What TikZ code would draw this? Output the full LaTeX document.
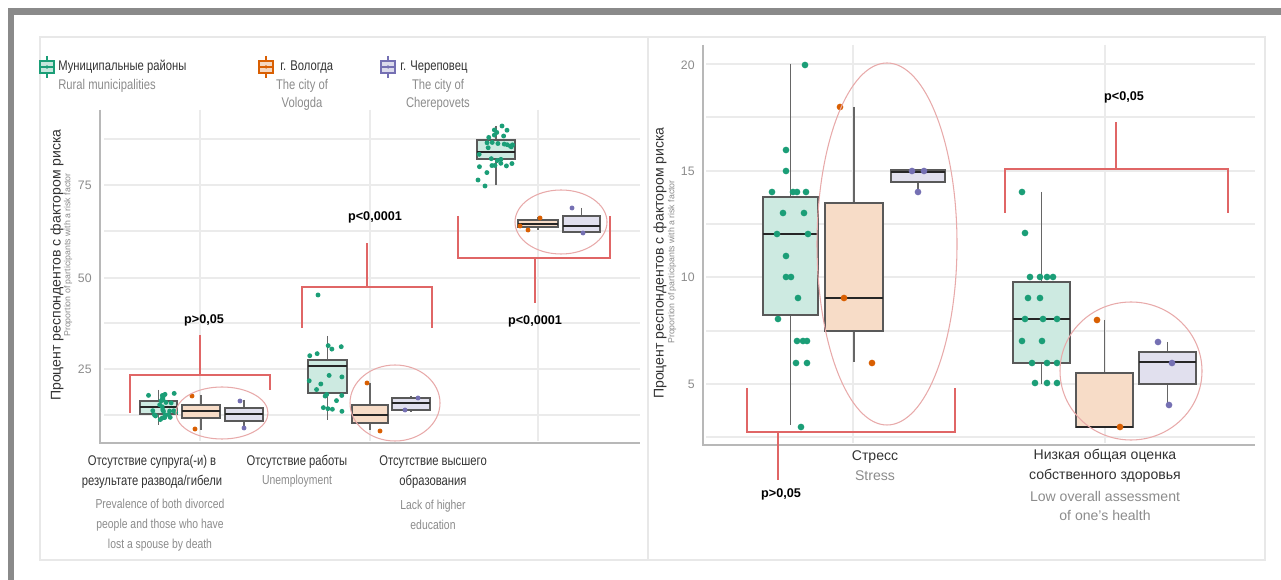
\documentclass[tikz,border=0pt]{standalone}
\usepackage{fontspec}
\setmainfont{Liberation Sans}
\newfontfamily\narrowsf{Liberation Sans}[FakeStretch=0.8]
\usepackage{xcolor}
\usepackage{tikz}
\usetikzlibrary{positioning,calc}

\definecolor{grn}{HTML}{1B9E77}
\definecolor{org}{HTML}{D95F02}
\definecolor{pur}{HTML}{7570B3}
\definecolor{brkred}{HTML}{E06666}
\definecolor{ringred}{HTML}{E8AAAA}
\definecolor{framegray}{HTML}{8A8A8A}
\definecolor{gridgray}{HTML}{EBEBEB}
\definecolor{axisgray}{HTML}{B8B8B8}
\definecolor{txtgray}{HTML}{8C8C8C}
\definecolor{txtdark}{HTML}{333333}

\begin{document}
\begin{tikzpicture}[x=0.02cm, y=-0.02cm,
  gridln/.style={gridgray, line width=0.6pt},
  axisln/.style={axisgray, line width=1.1pt},
  boxp/.style={draw=black!65, line width=0.8pt},
  whisk/.style={black!60, line width=0.8pt},
  med/.style={black!85, line width=1pt},
  brk/.style={brkred, line width=0.8pt},
  ring/.style={ringred, line width=0.6pt},
  leg/.style={font=\narrowsf\fontsize{8}{10}\selectfont, text=txtdark, inner sep=0pt},
  legen/.style={font=\narrowsf\fontsize{8}{10.2}\selectfont, text=txtgray, align=center, inner sep=0pt},
  catl/.style={font=\narrowsf\fontsize{8}{11.3}\selectfont, text=txtdark, align=center, inner sep=0pt},
  catlen/.style={font=\narrowsf\fontsize{7.4}{11.3}\selectfont, text=txtgray, align=center, inner sep=0pt},
  catr/.style={font=\fontsize{8}{11.3}\selectfont, text=txtdark, align=center, inner sep=0pt},
  catren/.style={font=\fontsize{8}{11}\selectfont, text=txtgray, align=center, inner sep=0pt},
  pval/.style={font=\bfseries\fontsize{7.2}{9}\selectfont, inner sep=0pt},
  ticklab/.style={font=\fontsize{7}{8}\selectfont, text=txtgray, anchor=east, inner sep=0pt},
  ytitle/.style={font=\fontsize{8}{9}\selectfont, text=txtdark, rotate=90, inner sep=0pt},
  ysub/.style={font=\fontsize{5}{6}\selectfont, text=txtgray, rotate=90, inner sep=0pt}
]
\useasboundingbox (0,0) rectangle (1281,580);

% frame and panels
\fill[white] (0,0) rectangle (1281,580);
\fill[framegray] (8,8) rectangle (1281,15);
\fill[framegray] (8,8) rectangle (14,580);
\draw[gray!18, line width=0.8pt] (40,37) rectangle (1265,560);
\draw[gray!18, line width=0.8pt] (648,37) -- (648,560);

% grids
\foreach \gy in {139,185,231,278,323,369,415}
  \draw[gridln] (104,\gy) -- (640,\gy);
\foreach \gx in {200,370,538}
  \draw[gridln] (\gx,110) -- (\gx,441);
\foreach \gy in {64,117,171,224,277,331,384,437}
  \draw[gridln] (706,\gy) -- (1255,\gy);
\foreach \gx in {853,1105}
  \draw[gridln] (\gx,45) -- (\gx,443);

% axes
\draw[axisln] (100,110) -- (100,443) -- (640,443);
\draw[axisln] (703,45) -- (703,445) -- (1255,445);

% tick labels
\node[ticklab] (t75) at (92,185) {75};
\node[ticklab] (t50) at (92,278) {50};
\node[ticklab] (t25) at (92,369) {25};
\node[ticklab] (t20) at (695,65) {20};
\node[ticklab] (t15) at (695,171) {15};
\node[ticklab] (t10) at (695,277) {10};
\node[ticklab] (t5)  at (695,384) {5};

% axis titles
\node[ytitle] (yt1) at (57,265) {Процент респондентов с фактором риска};
\node[ysub]   (ys1) at (68,255) {Proportion of participants with a risk factor};
\node[ytitle] (yt2) at (660,263) {Процент респондентов с фактором риска};
\node[ysub]   (ys2) at (672,262) {Proportion of participants with a risk factor};

% legend
\foreach \ix/\cl in {47/grn, 266/org, 388/pur} {
  \draw[\cl, line width=0.7pt] (\ix,56) -- (\ix,78);
  \filldraw[draw=\cl, fill=\cl!25, line width=0.7pt] (\ix-7,61) rectangle (\ix+7,73);
  \draw[\cl, line width=0.7pt] (\ix-7,67) -- (\ix+7,67);
  \fill[\cl] (\ix,67) circle (1pt);
}
\node[leg, anchor=west] (lg1) at (58,67) {Муниципальные районы};
\node[legen, anchor=west] (lg1en) at (58,86) {Rural municipalities};
\node[leg, anchor=west] (lg2) at (280,67) {г. Вологда};
\node[legen] (lg2en) at (302,95) {The city of\\Vologda};
\node[leg, anchor=west] (lg3) at (400,67) {г. Череповец};
\node[legen] (lg3en) at (438,95) {The city of\\Cherepovets};

% boxplots: x-left/x-right/whisker top/box top/median/box bottom/whisker bottom/colour
\foreach \xl/\xr/\wa/\qa/\md/\qb/\wb/\cl in {
  140/177/390/401/407/414/425/grn,
  182/220/395/405/411/418/430/org,
  225/263/400/408/414/421/428/pur,
  308/347/336/360/366/393/420/grn,
  352/388/383/405/415/423/430/org,
  392/430/396/398/403/410/412/pur,
  477/515/126/140/152/159/185/grn,
  518/558/217/220/224/227/230/org,
  563/600/208/216/226/232/234/pur,
  763/818/64/197/234/315/425/grn,
  825/883/107/203/298/331/362/org,
  891/945/170/170/172/182/192/pur,
  1013/1070/192/282/319/363/384/grn,
  1076/1133/320/373/427/427/427/org,
  1139/1196/342/352/362/384/405/pur} {
  \draw[whisk] ({(\xl+\xr)/2},\wa) -- ({(\xl+\xr)/2},\wb);
  \filldraw[boxp, fill=\cl!22] (\xl,\qa) rectangle (\xr,\qb);
  \draw[med] (\xl,\md) -- (\xr,\md);
}

% jittered points, left panel
\pgfmathsetseed{11}
\foreach \i in {1,...,26}
  \fill[grn] ({159+17*rand},{407+15*rand}) circle (1.4pt);
\foreach \i in {1,...,18}
  \fill[grn] ({327+18*rand},{380+36*rand}) circle (1.4pt);
\foreach \i in {1,...,26}
  \fill[grn] ({496+17*rand},{152+22*rand}) circle (1.4pt);
\foreach \px/\py in {318/295, 502/126, 485/186, 478/180}
  \fill[grn] (\px,\py) circle (1.4pt);
\foreach \px/\py in {192/396, 195/429, 367/383, 380/431, 540/218, 528/230, 520/226}
  \fill[org] (\px,\py) circle (1.4pt);
\foreach \px/\py in {240/401, 244/428, 418/398, 405/410, 572/208, 583/233}
  \fill[pur] (\px,\py) circle (1.4pt);

% points, right panel
\foreach \px/\py in {805/65, 786/150, 786/171, 772/192, 793/192, 797/192, 806/192,
  783/213, 804/213, 777/234, 808/234, 786/256, 786/277, 791/277, 798/298, 778/319,
  797/341, 803/341, 807/341, 796/363, 807/363, 801/427,
  1022/192, 1025/233, 1030/277, 1040/277, 1047/277, 1053/277, 1028/298, 1040/298,
  1025/319, 1043/319, 1057/319, 1022/341, 1042/341, 1032/363, 1047/363, 1057/363,
  1035/383, 1047/383, 1057/383}
  \fill[grn] (\px,\py) circle (1.9pt);
\foreach \px/\py in {840/107, 844/298, 872/363, 1097/320, 1120/427}
  \fill[org] (\px,\py) circle (1.9pt);
\foreach \px/\py in {912/171, 924/171, 918/192, 1158/342, 1172/363, 1169/405}
  \fill[pur] (\px,\py) circle (1.9pt);

% highlighted groups
\draw[ring] (222,413) ellipse [x radius=46, y radius=26];
\draw[ring] (395,403) ellipse [x radius=45, y radius=38];
\draw[ring] (561,222) ellipse [x radius=46, y radius=32];
\draw[ring] (887,244) ellipse [x radius=70, y radius=181];
\draw[ring] (1131,371) ellipse [x radius=71, y radius=69];

% p-values
\node[pval] (p1) at (204,320) {p>0,05};
\node[pval] (p2) at (375,217) {p<0,0001};
\node[pval] (p3) at (535,321) {p<0,0001};
\node[pval] (p4) at (781,494) {p>0,05};
\node[pval] (p5) at (1124,97) {p<0,05};

% brackets
\coordinate (b1a) at (130,413); \coordinate (b1b) at (130,375);
\coordinate (b1c) at (270,375); \coordinate (b1d) at (270,390);
\coordinate (b1m) at (200,375); \coordinate (b1s) at (200,335);
\draw[brk] (b1a) -- (b1b) -- (b1c) -- (b1d);
\draw[brk] (b1m) -- (b1s);

\coordinate (b2a) at (302,328); \coordinate (b2b) at (302,287);
\coordinate (b2c) at (432,287); \coordinate (b2d) at (432,328);
\coordinate (b2m) at (367,287); \coordinate (b2s) at (367,243);
\draw[brk] (b2a) -- (b2b) -- (b2c) -- (b2d);
\draw[brk] (b2m) -- (b2s);

\coordinate (b3a) at (458,216); \coordinate (b3b) at (458,258);
\coordinate (b3c) at (610,258); \coordinate (b3d) at (610,216);
\coordinate (b3m) at (535,258); \coordinate (b3s) at (535,303);
\draw[brk] (b3a) -- (b3b) -- (b3c) -- (b3d);
\draw[brk] (b3m) -- (b3s);

\coordinate (b4a) at (747,388); \coordinate (b4b) at (747,432);
\coordinate (b4c) at (955,432); \coordinate (b4d) at (955,388);
\coordinate (b4m) at (778,432); \coordinate (b4s) at (778,480);
\draw[brk] (b4a) -- (b4b) -- (b4c) -- (b4d);
\draw[brk] (b4m) -- (b4s);

\coordinate (b5a) at (1005,213); \coordinate (b5b) at (1005,169);
\coordinate (b5c) at (1228,169); \coordinate (b5d) at (1228,213);
\coordinate (b5m) at (1116,169); \coordinate (b5s) at (1116,122);
\draw[brk] (b5a) -- (b5b) -- (b5c) -- (b5d);
\draw[brk] (b5m) -- (b5s);

% category labels
\node[catl] (c1ru) at (152,472) {Отсутствие супруга(-и) в\\результате развода/гибели};
\node[catlen] (c1en) at (160,525) {Prevalence of both divorced\\people and those who have\\lost a spouse by death};
\node[catl] (c2ru) at (297,462) {Отсутствие работы};
\node[catlen] (c2en) at (297,481) {Unemployment};
\node[catl] (c3ru) at (433,472) {Отсутствие высшего\\образования};
\node[catlen] (c3en) at (433,515) {Lack of higher\\education};
\node[catr] (c4ru) at (875,457) {Стресс};
\node[catren] (c4en) at (875,476) {Stress};
\node[catr] (c5ru) at (1105,466) {Низкая общая оценка\\собственного здоровья};
\node[catren] (c5en) at (1105,506) {Low overall assessment\\of one's health};

\end{tikzpicture}
\end{document}
